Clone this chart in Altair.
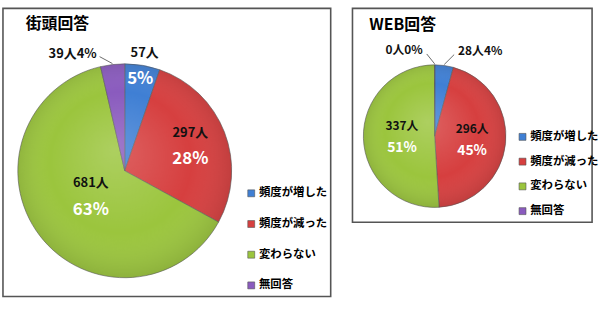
import altair as alt
import pandas as pd

categories = ["頻度が増した", "頻度が減った", "変わらない", "無回答"]
colors = ["#3F7FD4", "#D63F3F", "#9BC53D", "#8A5BBE"]

street_title = "街頭回答"
street_counts = [57, 297, 681, 39]

web_title = "WEB回答"
web_counts = [28, 296, 337, 0]

FONT = "Noto Sans CJK JP"


def arr(d, n, k, default=0):
    return "[" + ",".join(str(d[i][k]) if i in d else str(default) for i in range(n)) + "]"


def panel(title, counts, W, H, cx, cy, R, inner, outer, title_xy, legend_xy,
          row_pad, count_size, pct_size):
    n = len(categories)
    df = pd.DataFrame({"cat": categories, "v": counts, "idx": list(range(n))})
    base = (
        alt.Chart(df)
        .transform_joinaggregate(total="sum(v)")
        .transform_window(cum="sum(v)", sort=[alt.SortField("idx")], frame=[None, 0])
        .transform_calculate(
            mid="(datum.cum - datum.v/2)/datum.total*2*PI",
            pct="round(datum.v/datum.total*100)",
        )
    )

    arcs = base.mark_arc(outerRadius=R, stroke="#5a5a5a", strokeWidth=0.6).encode(
        theta=alt.Theta("v:Q", stack=True),
        color=alt.Color(
            "cat:N",
            scale=alt.Scale(domain=categories, range=colors),
            legend=alt.Legend(
                orient="none", legendX=legend_xy[0], legendY=legend_xy[1], title=None,
                symbolType="square", symbolSize=49, symbolStrokeWidth=0.6,
                symbolStrokeColor="#555", labelFont=FONT, labelFontSize=11.5,
                labelFontWeight="bold", labelColor="#000", rowPadding=row_pad,
                labelOffset=2, padding=0,
            ),
            sort=categories,
        ),
        order=alt.Order("idx:Q"),
        x=alt.value(cx),
        y=alt.value(cy),
    )

    shade = alt.Chart(pd.DataFrame({"a": [0]})).mark_arc(
        theta=0, theta2=6.2832, outerRadius=R,
        fill=alt.Gradient(
            gradient="radial", x1=0.45, y1=0.4, r1=0, x2=0.5, y2=0.5, r2=0.55,
            stops=[
                alt.GradientStop(offset=0, color="rgba(255,255,255,0.18)"),
                alt.GradientStop(offset=0.6, color="rgba(255,255,255,0)"),
                alt.GradientStop(offset=1, color="rgba(0,0,0,0.16)"),
            ],
        ),
    ).encode(x=alt.value(cx), y=alt.value(cy))

    in_idx = "[" + ",".join(str(i) for i in inner) + "]"
    inner_base = base.transform_filter(f"indexof({in_idx}, datum.idx) >= 0").transform_calculate(
        cr=f"{arr(inner, n, 0)}[datum.idx]",
        cdy=f"{arr(inner, n, 1)}[datum.idx]",
        pr=f"{arr(inner, n, 2)}[datum.idx]",
        pdy=f"{arr(inner, n, 3)}[datum.idx]",
    ).transform_calculate(
        cxp=f"{cx} + datum.cr*sin(datum.mid)",
        cyp=f"{cy} - datum.cr*cos(datum.mid) + datum.cdy",
        pxp=f"{cx} + datum.pr*sin(datum.mid)",
        pyp=f"{cy} - datum.pr*cos(datum.mid) + datum.pdy",
        clab="datum.v + '人'",
        plab="datum.pct + '%'",
    )
    count_text = inner_base.mark_text(
        font=FONT, fontSize=count_size, fontWeight="bold", color="#111"
    ).encode(
        x=alt.X("cxp:Q", scale=None, axis=None),
        y=alt.Y("cyp:Q", scale=None, axis=None),
        text="clab:N",
    )
    pct_text = inner_base.mark_text(
        font=FONT, fontSize=pct_size, fontWeight="bold", color="#ffffff"
    ).encode(
        x=alt.X("pxp:Q", scale=None, axis=None),
        y=alt.Y("pyp:Q", scale=None, axis=None),
        text="plab:N",
    )

    out_idx = "[" + ",".join(str(i) for i in outer) + "]"
    outer_base = base.transform_filter(f"indexof({out_idx}, datum.idx) >= 0").transform_calculate(
        ldx=f"{arr(outer, n, 1)}[datum.idx]",
        ldy=f"{arr(outer, n, 2)}[datum.idx]",
        tdx=f"{arr(outer, n, 3)}[datum.idx]",
        tdy=f"{arr(outer, n, 4)}[datum.idx]",
    ).transform_calculate(
        x1=f"{cx} + {R + 1}*sin(datum.mid)",
        y1=f"{cy} - {R + 1}*cos(datum.mid)",
    ).transform_calculate(
        x2="datum.x1 + datum.ldx",
        y2="datum.y1 + datum.ldy",
    ).transform_calculate(
        tx="datum.x2 + datum.tdx",
        ty="datum.y2 + datum.tdy",
        olab="datum.v + '人' + datum.pct + '%'",
    )
    leaders = outer_base.mark_rule(color="#444", strokeWidth=0.8).encode(
        x=alt.X("x1:Q", scale=None, axis=None),
        y=alt.Y("y1:Q", scale=None, axis=None),
        x2="x2:Q",
        y2="y2:Q",
    )
    layers = [arcs, shade, count_text, pct_text, leaders]
    for align in ("left", "right"):
        ids = [i for i in outer if outer[i][0] == align]
        if not ids:
            continue
        ids_s = "[" + ",".join(str(i) for i in ids) + "]"
        layers.append(
            outer_base.transform_filter(f"indexof({ids_s}, datum.idx) >= 0").mark_text(
                font=FONT, fontSize=count_size, fontWeight="bold", color="#111",
                align=align,
            ).encode(
                x=alt.X("tx:Q", scale=None, axis=None),
                y=alt.Y("ty:Q", scale=None, axis=None),
                text="olab:N",
            )
        )

    title_layer = alt.Chart(pd.DataFrame({"t": [title]})).mark_text(
        font=FONT, fontSize=16, fontWeight="bold", color="#000", align="left"
    ).encode(x=alt.value(title_xy[0]), y=alt.value(title_xy[1]), text="t:N")
    layers.append(title_layer)

    return alt.layer(*layers).properties(
        width=W, height=H,
        view=alt.ViewBackground(stroke="#555555", strokeWidth=1.6),
    )


left = panel(
    street_title, street_counts, 331, 291, 123, 164, 108,
    inner={0: (121, 0, 94, 0), 1: (71, -13, 71, 14), 2: (43, -14, 43, 14)},
    outer={3: ("right", -13, -7, -3, -3)},
    title_xy=(23, 16), legend_xy=(245, 181), row_pad=18,
    count_size=13, pct_size=17,
)

right = panel(
    web_title, web_counts, 242, 216, 83, 129, 72,
    inner={1: (38, -11, 38, 11), 2: (33, -11, 33, 11)},
    outer={0: ("left", 10, -10, 4, -4), 3: ("right", -8, -10, -4, -4)},
    title_xy=(17, 17), legend_xy=(166, 124), row_pad=12,
    count_size=12, pct_size=14,
)

chart = (
    alt.hconcat(left, right, spacing=20)
    .resolve_scale(color="independent", theta="independent")
    .resolve_legend(color="independent")
    .properties(padding={"left": 2, "top": 6, "right": 0, "bottom": 0})
    .configure_view(stroke="#555555", strokeWidth=1.6)
    .configure(font=FONT)
)

chart.save("out.html", embed_options={"renderer": "svg", "actions": False})
